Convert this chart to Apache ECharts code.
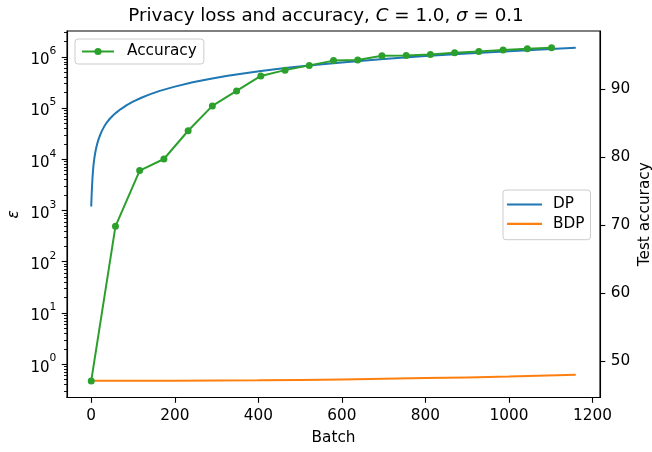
<!DOCTYPE html>
<html>
<head>
<meta charset="utf-8">
<script src="https://cdn.jsdelivr.net/npm/echarts@6/dist/echarts.min.js"></script>
<style>
html,body{margin:0;padding:0;background:#fff;}
#chart{width:652px;height:452px;}
</style>
</head>
<body>
<div id="chart"></div>
<script>
// ---- data ----
const dpBatch = [0, 0.5, 1, 1.5, 2, 3, 4, 5.5, 7, 8, 10, 12, 15, 17.5, 21.4, 25, 30, 37, 45, 52, 60, 70, 85, 100, 120, 140, 164, 200, 243, 280, 323, 360, 402, 440, 481, 540, 600, 700, 800, 900, 1000, 1100, 1160];
const dpEps = [1200, 1600, 2000, 2500, 3000, 4300, 5600, 7800, 9800, 11200, 14000, 16800, 21000, 24500, 30000, 35000, 42000, 52000, 62500, 71500, 81500, 94500, 114000, 133500, 159000, 185000, 216000, 262000, 318000, 366000, 421000, 469000, 523000, 572000, 624000, 700000, 777000, 905000, 1033000, 1160000, 1290000, 1418000, 1495000];
const bdpBatch = [0, 200, 400, 600, 800, 1000, 1160];
const bdpEps = [0.475, 0.478, 0.487, 0.505, 0.535, 0.575, 0.62];
const accBatch = [0, 58, 116, 174, 232, 290, 348, 406, 464, 522, 580, 638, 696, 754, 812, 870, 928, 986, 1044, 1102];
const accValues = [47.1, 69.8, 78.0, 79.7, 83.85, 87.5, 89.7, 91.9, 92.75, 93.45, 94.15, 94.25, 94.85, 94.9, 95.05, 95.3, 95.5, 95.7, 95.9, 96.05];
const xTicks = [0, 200, 400, 600, 800, 1000, 1200];
const epsTicks = [1, 10, 100, 1000, 10000, 100000, 1000000];
const accTicks = [50, 60, 70, 80, 90];
const epsMinorTicks = [0.3,0.4,0.5,0.6,0.7,0.8,0.9, 2,3,4,5,6,7,8,9, 20,30,40,50,60,70,80,90, 200,300,400,500,600,700,800,900, 2000,3000,4000,5000,6000,7000,8000,9000, 20000,30000,40000,50000,60000,70000,80000,90000, 200000,300000,400000,500000,600000,700000,800000,900000, 2000000,3000000];

const pairs = (xs, ys) => xs.map((x, i) => [x, ys[i]]);
const FONT = 'DejaVu Sans';
const FS = 15.3;
const MARGIN = 10.7;
const TICKLEN = 5.3;

const chart = echarts.init(document.getElementById('chart'), null, {renderer: 'canvas'});
chart.setOption({
  animation: false,
  backgroundColor: '#fff',
  textStyle: {fontFamily: FONT},
  title: {
    text: 'Privacy loss and accuracy, {it|C} = 1.0, {it|σ} = 0.1',
    left: 'center',
    top: 2,
    textStyle: {
      fontFamily: FONT, fontSize: 18.3, fontWeight: 'normal', color: '#000',
      rich: {it: {fontFamily: FONT, fontSize: 18.3, fontStyle: 'italic', color: '#000'}}
    }
  },
  grid: {left: 67, right: 52, top: 31, bottom: 54.5, show: true, borderColor: '#000', borderWidth: 1.1,
    containLabel: false, outerBoundsMode: 'none'},
  legend: [
    {
      data: ['Accuracy'],
      left: 75, top: 39,
      padding: [5, 7, 5, 6],
      itemWidth: 32, itemHeight: 9,
      backgroundColor: 'rgba(255,255,255,0.8)',
      borderColor: '#cccccc', borderWidth: 1, borderRadius: 3,
      textStyle: {fontFamily: FONT, fontSize: FS, color: '#000', padding: [0, 0, 0, 8]}
    },
    {
      data: [{name: 'DP', icon: 'rect'}, {name: 'BDP', icon: 'rect'}],
      orient: 'vertical',
      left: 503, top: 190,
      padding: [7, 6, 8.4, 4],
      itemGap: 4.3,
      itemWidth: 35, itemHeight: 2.2,
      backgroundColor: 'rgba(255,255,255,0.8)',
      borderColor: '#cccccc', borderWidth: 1, borderRadius: 3,
      textStyle: {fontFamily: FONT, fontSize: FS, color: '#000', padding: [0, 0, 0, 6]}
    }
  ],
  xAxis: {
    type: 'value',
    min: -58, max: 1218,
    name: 'Batch', nameLocation: 'middle', nameGap: 33, nameMoveOverlap: false,
    nameTextStyle: {fontFamily: FONT, fontSize: FS, color: '#000'},
    axisLine: {show: true, onZero: false, lineStyle: {color: '#000', width: 1.1}},
    axisTick: {show: true, length: TICKLEN, customValues: xTicks, lineStyle: {color: '#000', width: 1.1}},
    axisLabel: {customValues: xTicks, margin: MARGIN, fontFamily: FONT, fontSize: FS, color: '#000',
      formatter: function (v) { return String(v); }},
    splitLine: {show: false}
  },
  yAxis: [
    {
      type: 'log', logBase: 10,
      min: 0.2239, max: 3190000,
      position: 'left',
      name: 'ε', nameLocation: 'middle', nameGap: 45, nameRotate: 90, nameMoveOverlap: false,
      nameTextStyle: {fontFamily: FONT, fontSize: FS, fontStyle: 'italic', color: '#000'},
      axisLine: {show: true, onZero: false, lineStyle: {color: '#000', width: 1.1}},
      axisTick: {show: true, length: TICKLEN, customValues: epsTicks, lineStyle: {color: '#000', width: 1.1}},
      axisLabel: {
        customValues: epsTicks, margin: MARGIN, color: '#000',
        formatter: function (v) { return '{b|10}{s|' + Math.round(Math.log10(v)) + '}'; },
        rich: {
          b: {fontFamily: FONT, fontSize: 15, color: '#000', verticalAlign: 'bottom', lineHeight: 22},
          s: {fontFamily: FONT, fontSize: 10.7, color: '#000', verticalAlign: 'top', lineHeight: 22}
        }
      },
      splitLine: {show: false}
    },
    {
      type: 'log', logBase: 10,
      min: 0.2239, max: 3190000,
      position: 'left', offset: 0,
      axisLine: {show: true, onZero: false, lineStyle: {color: '#000', width: 1.1, opacity: 0}},
      axisTick: {show: true, length: 3, customValues: epsMinorTicks, lineStyle: {color: '#000', width: 0.9}},
      axisLabel: {show: true, customValues: epsMinorTicks, hideOverlap: false, fontSize: 6, color: '#ffffff',
        margin: 80, formatter: function () { return 'm'; }},
      splitLine: {show: false}
    },
    {
      type: 'value',
      min: 44.66, max: 98.5,
      position: 'right',
      name: 'Test accuracy', nameLocation: 'middle', nameGap: 38, nameRotate: 90, nameMoveOverlap: false,
      nameTextStyle: {fontFamily: FONT, fontSize: FS, color: '#000'},
      axisLine: {show: true, onZero: false, lineStyle: {color: '#000', width: 1.1}},
      axisTick: {show: true, length: TICKLEN, customValues: accTicks, lineStyle: {color: '#000', width: 1.1}},
      axisLabel: {customValues: accTicks, margin: MARGIN, fontFamily: FONT, fontSize: FS, color: '#000'},
      splitLine: {show: false}
    }
  ],
  series: [
    {
      name: 'DP', type: 'line', xAxisIndex: 0, yAxisIndex: 0,
      data: pairs(dpBatch, dpEps), symbol: 'none', smooth: false,
      lineStyle: {color: '#1f77b4', width: 2}, itemStyle: {color: '#1f77b4'}, z: 2
    },
    {
      name: 'BDP', type: 'line', xAxisIndex: 0, yAxisIndex: 0,
      data: pairs(bdpBatch, bdpEps), symbol: 'none', smooth: true,
      lineStyle: {color: '#ff7f0e', width: 2}, itemStyle: {color: '#ff7f0e'}, z: 2
    },
    {
      name: 'Accuracy', type: 'line', xAxisIndex: 0, yAxisIndex: 2,
      data: pairs(accBatch, accValues), symbol: 'circle', symbolSize: 7, showSymbol: true,
      lineStyle: {color: '#2ca02c', width: 2}, itemStyle: {color: '#2ca02c'}, z: 3
    },
    {
      name: 'minorTickCarrier', type: 'line', xAxisIndex: 0, yAxisIndex: 1,
      data: pairs(dpBatch, dpEps), symbol: 'none', silent: true,
      lineStyle: {opacity: 0, width: 0}, tooltip: {show: false}, z: 0
    }
  ]
});
</script>
</body>
</html>
